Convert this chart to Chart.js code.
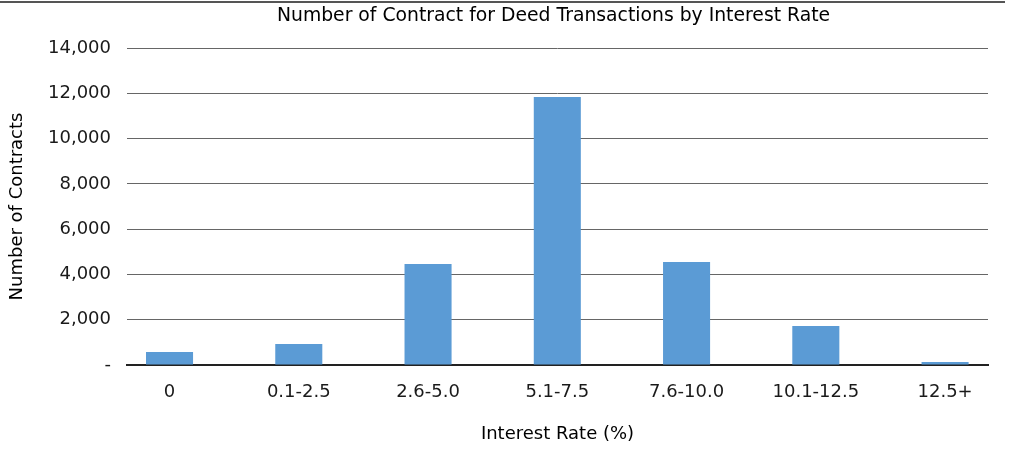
<!DOCTYPE html>
<html>
<head>
<meta charset="utf-8">
<script src="https://cdn.jsdelivr.net/npm/chart.js@4"></script>
<style>
html,body{margin:0;padding:0;background:#fff;}
#wrap{position:relative;width:1009px;height:476px;}
</style>
</head>
<body>
<div id="wrap"><canvas id="c" width="1009" height="476"></canvas></div>
<script>
const chartTitle = "Number of Contract for Deed Transactions by Interest Rate";
const categories = ["0", "0.1-2.5", "2.6-5.0", "5.1-7.5", "7.6-10.0", "10.1-12.5", "12.5+"];
const contracts = [575, 930, 4460, 11840, 4550, 1720, 130];
const yTicks = [0, 2000, 4000, 6000, 8000, 10000, 12000, 14000];
const yTitle = "Number of Contracts";
const xTitle = "Interest Rate (%)";

const FONT = "'DejaVu Sans', 'Liberation Sans', Arial, sans-serif";

const titlePlugin = {
  id: 'customTitle',
  afterDraw(chart) {
    const ctx = chart.ctx;
    const a = chart.chartArea;
    ctx.save();
    ctx.strokeStyle = '#555';
    ctx.lineWidth = 2;
    ctx.beginPath();
    ctx.moveTo(0, 2);
    ctx.lineTo(1005, 2);
    ctx.stroke();
    ctx.fillStyle = '#000';
    ctx.font = '18.8px ' + FONT;
    ctx.textAlign = 'center';
    ctx.textBaseline = 'middle';
    ctx.fillText(chartTitle, (a.left + a.right) / 2 - 4, 16);
    ctx.restore();
  }
};

const points = categories.map((c, i) => ({ x: i, y: contracts[i] }));

new Chart(document.getElementById('c'), {
  type: 'bar',
  data: {
    datasets: [{
      data: points,
      backgroundColor: '#5B9BD5',
      borderWidth: 0,
      barPercentage: 0.364,
      categoryPercentage: 1.0
    }]
  },
  options: {
    responsive: false,
    animation: false,
    events: [],
    layout: { padding: { left: 0, right: 21, top: 48, bottom: 31 } },
    plugins: {
      legend: { display: false },
      title: { display: false },
      tooltip: { enabled: false }
    },
    scales: {
      x: {
        type: 'linear',
        offset: false,
        min: -0.329,
        max: 6.332,
        afterBuildTicks(axis) { axis.ticks = categories.map((c, i) => ({ value: i })); },
        grid: { display: false, drawTicks: false },
        border: { display: true, color: '#222', width: 2 },
        ticks: {
          color: '#1a1a1a', font: { family: FONT, size: 18 }, padding: 17, maxRotation: 0, autoSkip: false,
          callback: (v, i) => categories[i]
        },
        title: { display: true, text: xTitle, color: '#000', font: { family: FONT, size: 18 }, padding: { top: 2, bottom: 0 } },
        afterFit(axis) { axis.height = 80; }
      },
      y: {
        min: 0, max: 14000,
        afterBuildTicks(axis) { axis.ticks = yTicks.map(v => ({ value: v })); },
        grid: { color: '#666', lineWidth: 1, drawTicks: false },
        border: { display: false },
        ticks: {
          color: '#1a1a1a', font: { family: FONT, size: 18 }, padding: 16,
          callback: v => v === 0 ? '-' : v.toLocaleString('en-US')
        },
        title: { display: true, text: yTitle, color: '#000', font: { family: FONT, size: 18 }, padding: { top: 7, bottom: 0 } },
        afterFit(axis) { axis.width = 127; }
      }
    }
  },
  plugins: [titlePlugin]
});
</script>
</body>
</html>
